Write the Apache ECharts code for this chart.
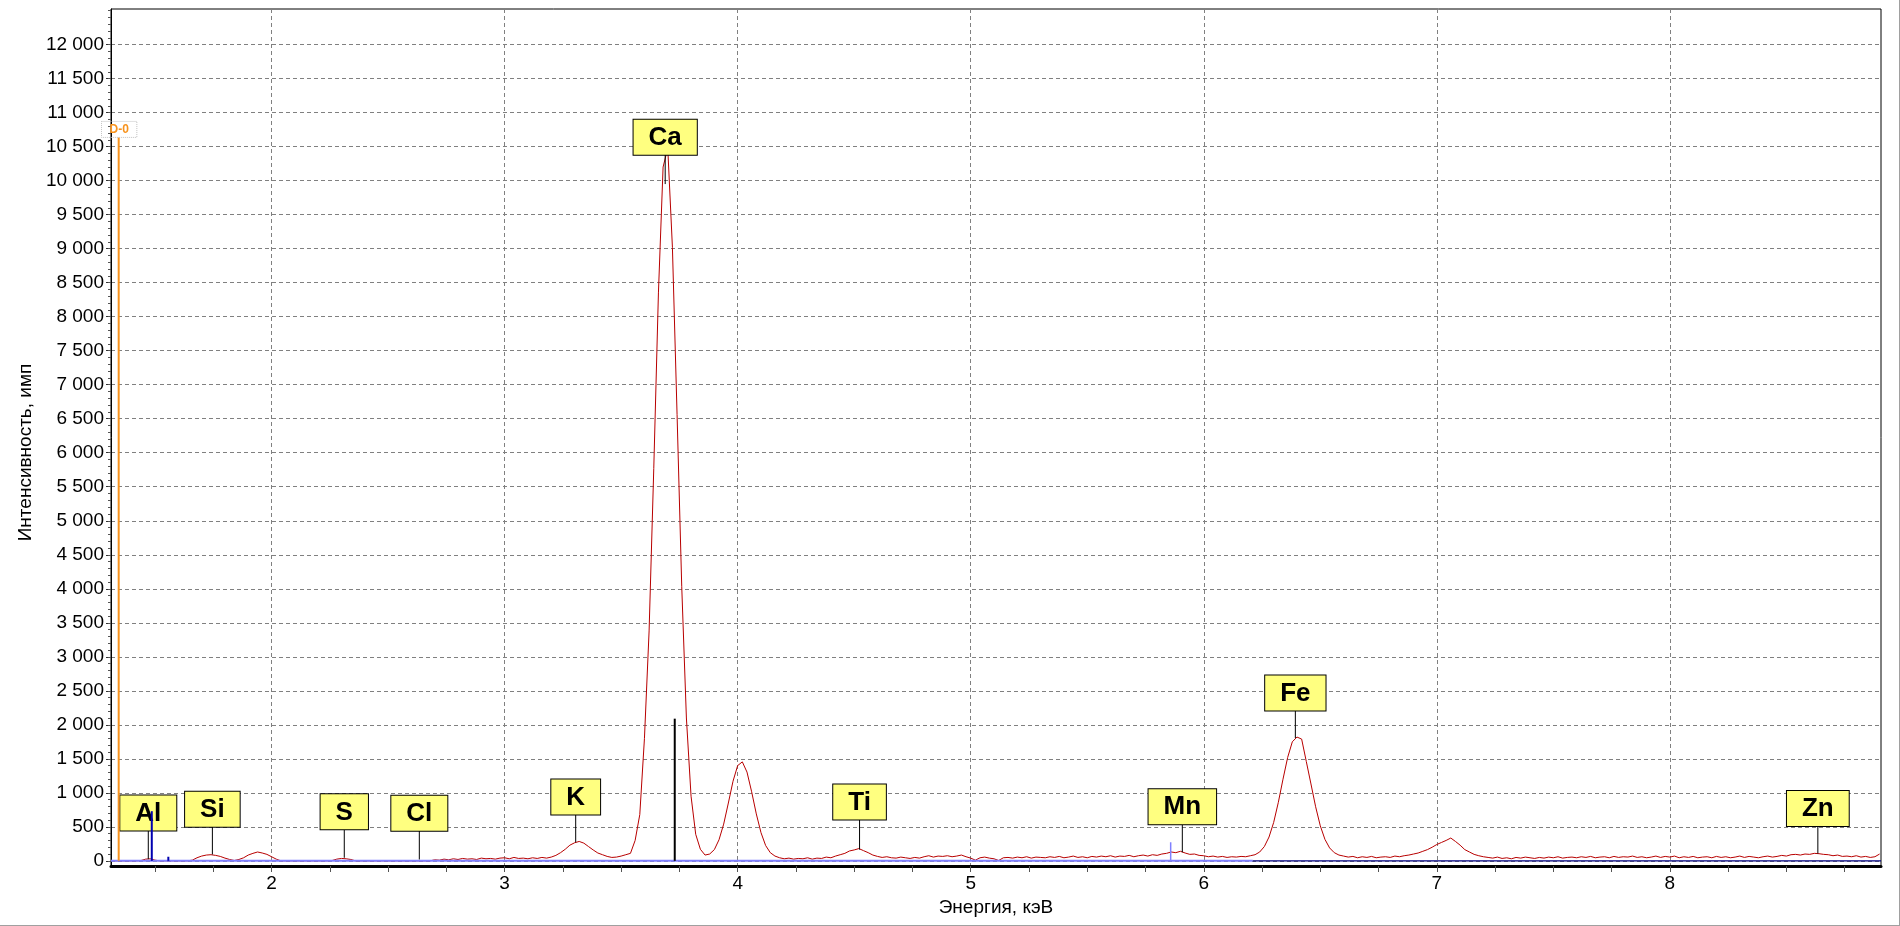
<!DOCTYPE html>
<html>
<head>
<meta charset="utf-8">
<script src="https://cdn.jsdelivr.net/npm/echarts@6/dist/echarts.min.js"></script>
<style>
  html, body { margin: 0; padding: 0; background: #fff; }
  #wrap { position: relative; width: 1900px; height: 926px; }
  #chart { position: absolute; left: 0; top: 0; width: 1900px; height: 926px; }
  #frame { position: absolute; left: 0; top: 0; width: 1900px; height: 926px; box-sizing: border-box;
           border-right: 1px solid #a0a0a0; border-bottom: 1px solid #a0a0a0; pointer-events: none; }
</style>
</head>
<body>
<div id="wrap"><div id="chart"></div><div id="frame"></div></div>
<script>
// ---------- axis ranges & ticks ----------
const xRange = [1.311, 8.906];          // keV
const yRange = [-76, 12524];            // counts
const xLabelTicks = [2, 3, 4, 5, 6, 7, 8];
const xMinorTicks = [1.5, 1.75, 2, 2.25, 2.5, 2.75, 3, 3.25, 3.5, 3.75, 4, 4.25, 4.5, 4.75,
                     5, 5.25, 5.5, 5.75, 6, 6.25, 6.5, 6.75, 7, 7.25, 7.5, 7.75, 8, 8.25, 8.5, 8.75];
const yLabelTicks = [0, 500, 1000, 1500, 2000, 2500, 3000, 3500, 4000, 4500, 5000, 5500, 6000,
                     6500, 7000, 7500, 8000, 8500, 9000, 9500, 10000, 10500, 11000, 11500, 12000];
const yMinorStep = 100;

// ---------- spectrum (counts per 0.02 keV channel) ----------
const E_START = 1.32, E_STEP = 0.02;
const counts_132_198 = [0, 0, 0, 0, 0, 0, 5, 25, 30, 10, 0, 0, 0, 0, 0, 0, 0, 10, 45, 70, 85, 90, 80, 65, 40, 20, 5, 20, 45, 85, 110, 130, 115, 95];
const counts_200_298 = [60, 25, 0, 0, 0, 0, 0, 0, 0, 0, 0, 0, 0, 5, 25, 35, 30, 20, 0, 0, 0, 0, 0, 0, 0, 0, 0, 0, 0, 0, 0, 0, 0, 0, 0,
                        15, 10, 25, 15, 30, 20, 35, 25, 30, 20, 40, 30, 35, 25, 40];
const counts_300_398 = [45, 30, 50, 35, 40, 30, 45, 35, 50, 40, 55, 80, 120, 170, 230, 265, 285, 260, 210, 160, 115, 90, 65, 50, 55,
                        70, 90, 110, 300, 680, 1800, 3380, 5770, 8350, 10200, 10480, 9020, 6560, 4030, 2100, 950, 390, 170, 85, 100,
                        165, 310, 540, 850, 1170];
const counts_400_498 = [1400, 1455, 1305, 1015, 690, 415, 225, 120, 70, 45, 30, 40, 25, 35, 30, 45, 25, 40, 35, 55, 45, 70, 90, 110, 145,
                        160, 180, 150, 120, 85, 65, 50, 60, 45, 40, 55, 45, 35, 50, 40, 60, 75, 55, 70, 65, 75, 60, 70, 85, 60];
const counts_500_598 = [40, 10, 45, 55, 40, 30, 5, 45, 50, 40, 55, 45, 60, 40, 55, 50, 45, 60, 50, 65, 45, 55, 70, 50, 60,
                        45, 65, 55, 70, 60, 75, 55, 70, 65, 80, 60, 75, 85, 70, 90, 80, 100, 110, 130, 120, 140, 115, 95, 100, 80];
const counts_600_698 = [75, 60, 70, 55, 65, 50, 60, 55, 65, 60, 75, 90, 130, 210, 350, 565, 860, 1200, 1520, 1750, 1820, 1790, 1460, 1130, 795,
                        515, 315, 190, 120, 85, 70, 55, 65, 45, 60, 50, 65, 45, 55, 60, 50, 70, 60, 75, 85, 100, 115, 140, 165, 200];
const counts_700_798 = [240, 270, 300, 335, 285, 230, 165, 130, 95, 75, 60, 50, 40, 55, 35, 45, 30, 50, 40, 55, 45, 35, 50, 40, 55,
                        45, 60, 40, 50, 55, 45, 60, 50, 65, 45, 55, 60, 45, 65, 50, 60, 55, 70, 50, 60, 45, 55, 70, 50, 65];
const counts_800_890 = [55, 70, 45, 60, 50, 65, 45, 55, 60, 45, 65, 50, 60, 45, 55, 70, 50, 65, 55, 45, 60, 70, 55, 65, 80,
                        70, 90, 95, 85, 100, 95, 110, 105, 95, 90, 75, 85, 65, 70, 60, 75, 55, 65, 50, 60, 100];

// background lines (keV ranges at 0 counts)
const bgLightRange = [1.311, 6.21];
const bgDarkRange = [6.21, 8.906];

// vertical line markers
const markerEnergy = [1.344, 1.486, 1.557, 3.730, 5.858];
const markerHeight = [10636, 730, 60, 2090, 273];
const markerText = ['D-0', '', '', '', ''];

// element labels
const elemNames = ['Al', 'Si', 'S', 'Cl', 'K', 'Ca', 'Ti', 'Mn', 'Fe', 'Zn'];
const elemEnergy = [1.471, 1.746, 2.312, 2.634, 3.305, 3.689, 4.523, 5.908, 6.393, 8.635];
const elemLineEnd = [25, 94, 45, 20, 273, 9950, 166, 126, 1805, 107];
const elemBoxBottom = [455, 508, 470, 449, 690, 10390, 616, 547, 2216, 518];

// ---------- build ----------
const allCounts = [].concat(counts_132_198, counts_200_298, counts_300_398, counts_400_498,
                            counts_500_598, counts_600_698, counts_700_798, counts_800_890);
const spectrum = allCounts.map((c, i) => [+(E_START + i * E_STEP).toFixed(2), c]);
const yMinorTicks = [];
for (let v = 0; v <= 12500; v += yMinorStep) yMinorTicks.push(v);

const FONT = '"Liberation Sans", Arial, sans-serif';
const markerColors = ['#F7931E', '#0000B0', '#0000B0', '#000000', '#8080FF'];
const markerWidths = [2, 2, 2, 2, 1.5];

function fmtY(v) {
  if (v >= 1000) {
    const th = Math.floor(v / 1000), rest = v % 1000;
    return th + ' ' + String(rest).padStart(3, '0');
  }
  return String(v);
}

const chart = echarts.init(document.getElementById('chart'), null, { renderer: 'canvas' });

const option = {
  animation: false,
  backgroundColor: '#ffffff',
  grid: { left: 111, right: 19, top: 9, bottom: 60, show: true, borderColor: '#000', borderWidth: 1 },
  xAxis: [
    {
      type: 'value', min: xRange[0], max: xRange[1], position: 'bottom',
      axisLine: { show: true, onZero: false, lineStyle: { color: '#000', width: 3 } },
      axisTick: { show: false, customValues: xLabelTicks },
      axisLabel: { customValues: xLabelTicks, fontSize: 19, color: '#000', fontFamily: FONT, margin: 8 },
      splitLine: { show: true, lineStyle: { color: '#808080', width: 1, type: [4, 3] } },
      name: 'Энергия, кэВ', nameLocation: 'middle', nameGap: 30,
      nameTextStyle: { fontSize: 19, color: '#000', fontFamily: FONT }
    },
    {
      type: 'value', min: xRange[0], max: xRange[1], position: 'bottom',
      axisLine: { show: false, onZero: false },
      axisTick: { show: true, customValues: xMinorTicks, length: 6, lineStyle: { color: '#555', width: 1 } },
      axisLabel: { show: false },
      splitLine: { show: false }
    }
  ],
  yAxis: [
    {
      type: 'value', min: yRange[0], max: yRange[1], position: 'left',
      axisLine: { show: true, onZero: false, lineStyle: { color: '#000', width: 1 } },
      axisTick: { show: true, customValues: yLabelTicks, length: 5, lineStyle: { color: '#333', width: 1 } },
      axisLabel: { customValues: yLabelTicks, formatter: fmtY, fontSize: 19, color: '#000', fontFamily: FONT, margin: 7 },
      splitLine: { show: true, lineStyle: { color: '#808080', width: 1, type: [4, 3] } },
      name: 'Интенсивность, имп', nameLocation: 'middle', nameGap: 72,
      nameTextStyle: { fontSize: 19, color: '#000', fontFamily: FONT, padding: [0, 30, 0, 0] }
    },
    {
      type: 'value', min: yRange[0], max: yRange[1], position: 'left',
      axisLine: { show: false, onZero: false },
      axisTick: { show: true, customValues: yMinorTicks, length: 3, lineStyle: { color: '#555', width: 1 } },
      axisLabel: { show: false },
      splitLine: { show: false }
    }
  ],
  series: [
    {
      name: 'spectrum', type: 'line', xAxisIndex: 0, yAxisIndex: 0,
      data: spectrum, showSymbol: false, symbol: 'none', z: 2,
      lineStyle: { color: '#B80000', width: 1 }
    },
    {
      name: 'bgLight', type: 'line', xAxisIndex: 0, yAxisIndex: 0,
      data: [[bgLightRange[0], 0], [bgLightRange[1], 0]], showSymbol: false, symbol: 'none', z: 3,
      lineStyle: { color: '#8080FF', width: 2 }
    },
    {
      name: 'bgDark', type: 'line', xAxisIndex: 0, yAxisIndex: 0,
      data: [[bgDarkRange[0], 0], [bgDarkRange[1], 0]], showSymbol: false, symbol: 'none', z: 3,
      lineStyle: { color: '#000080', width: 1.2 }
    },
    {
      name: 'elements', type: 'custom', xAxisIndex: 0, yAxisIndex: 0, z: 4, clip: false,
      encode: { x: 0, y: [1, 2] },
      data: elemEnergy.map((e, i) => [e, elemLineEnd[i], elemBoxBottom[i]]),
      renderItem: function (params, api) {
        const e = api.value(0);
        const p0 = api.coord([e, api.value(1)]);
        const p1 = api.coord([e, api.value(2)]);
        return {
          type: 'group',
          children: [
            { type: 'line', shape: { x1: p0[0], y1: p0[1], x2: p1[0], y2: p1[1] },
              style: { stroke: '#000', lineWidth: 1 } },
            { type: 'text', x: p1[0], y: p1[1] + 0.5,
              style: { text: elemNames[params.dataIndex], font: 'bold 26px ' + FONT, fill: '#000',
                       align: 'center', verticalAlign: 'bottom', lineHeight: 28,
                       backgroundColor: '#FFFF80', borderColor: '#000', borderWidth: 1,
                       padding: [4, 15, 3, 15] } }
          ]
        };
      }
    },
    {
      name: 'markers', type: 'custom', xAxisIndex: 0, yAxisIndex: 0, z: 5, clip: false,
      encode: { x: 0, y: 1 },
      data: markerEnergy.map((e, i) => [e, markerHeight[i]]),
      renderItem: function (params, api) {
        const i = params.dataIndex;
        const e = api.value(0);
        const pb = api.coord([e, 0]);
        const pt = api.coord([e, api.value(1)]);
        const children = [
          { type: 'line', shape: { x1: pb[0], y1: pb[1], x2: pt[0], y2: pt[1] },
            style: { stroke: markerColors[i], lineWidth: markerWidths[i] } }
        ];
        if (markerText[i]) {
          children.push({ type: 'text', x: pt[0] + 0.5, y: pt[1],
            style: { text: markerText[i], font: 'bold 12px ' + FONT, fill: markerColors[i],
                     align: 'center', verticalAlign: 'bottom', lineHeight: 13,
                     borderColor: '#c0c0c0', borderWidth: 1, borderDash: [1, 1],
                     padding: [2, 8, 1, 8] } });
        }
        return { type: 'group', children: children };
      }
    }
  ]
};
chart.setOption(option);
</script>
</body>
</html>
